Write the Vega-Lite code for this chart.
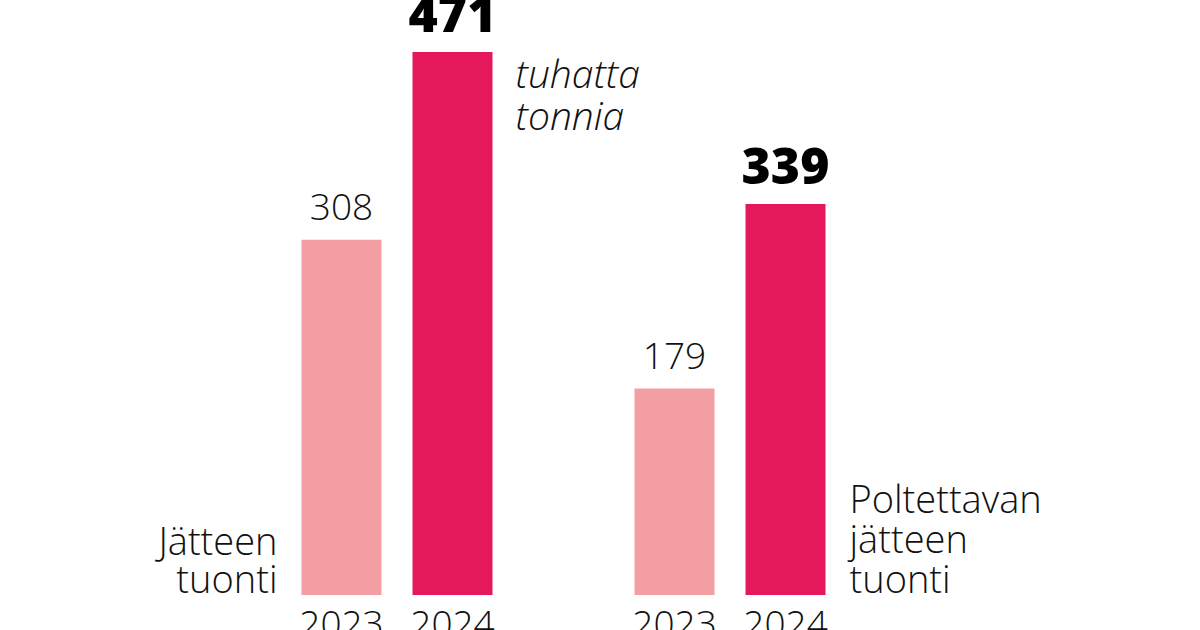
{
  "$schema": "https://vega.github.io/schema/vega-lite/v6.json",
  "width": 555,
  "height": 595,
  "autosize": "none",
  "padding": {"left": 286, "top": 0, "right": 359, "bottom": 35},
  "background": "white",
  "config": {"view": {"stroke": null}, "font": "Open Sans"},
  "datasets": {
    "bars": [
      {"slot": "J 2023", "year": "2023", "value": 308},
      {"slot": "J 2024", "year": "2024", "value": 471},
      {"slot": "P 2023", "year": "2023", "value": 179},
      {"slot": "P 2024", "year": "2024", "value": 339}
    ],
    "notes": [
      {"slot": "J 2023", "value": 0, "note": ["Jätteen", "tuonti"], "kind": "left"},
      {"slot": "P 2024", "value": 0, "note": ["Poltettavan", "jätteen", "tuonti"], "kind": "right"},
      {"slot": "J 2024", "value": 471, "note": ["tuhatta", "tonnia"], "kind": "unit"}
    ]
  },
  "encoding": {
    "x": {
      "field": "slot",
      "type": "nominal",
      "sort": null,
      "scale": {"domain": ["J 2023", "J 2024", "gap", "P 2023", "P 2024"], "paddingInner": 0.2793, "paddingOuter": 0.1396},
      "axis": {
        "title": null,
        "domain": false,
        "ticks": false,
        "labelAngle": 0,
        "labelFontSize": 37,
        "labelFontWeight": 300,
        "labelColor": "#111111",
        "labelPadding": 12,
        "labelFont": "Open Sans",
        "labelExpr": "datum.label == 'gap' ? '' : slice(datum.label, -4)"
      }
    },
    "y": {
      "field": "value",
      "type": "quantitative",
      "scale": {"domain": [0, 516], "nice": false, "zero": true},
      "axis": null
    }
  },
  "layer": [
    {
      "data": {"name": "bars"},
      "mark": {"type": "bar"},
      "encoding": {
        "color": {
          "field": "year",
          "type": "nominal",
          "scale": {"domain": ["2023", "2024"], "range": ["#f39ea2", "#e4185a"]},
          "legend": null
        }
      }
    },
    {
      "data": {"name": "bars"},
      "transform": [{"filter": "datum.year == '2023'"}],
      "mark": {"type": "text", "baseline": "alphabetic", "dy": -20, "fontSize": 37, "fontWeight": 300, "color": "#111111", "font": "Open Sans"},
      "encoding": {"text": {"field": "value", "type": "quantitative"}}
    },
    {
      "data": {"name": "bars"},
      "transform": [{"filter": "datum.year == '2024'"}],
      "mark": {"type": "text", "baseline": "alphabetic", "dy": -20, "fontSize": 50, "fontWeight": 800, "color": "#000000", "font": "Open Sans"},
      "encoding": {"text": {"field": "value", "type": "quantitative"}}
    },
    {
      "data": {"name": "notes"},
      "transform": [{"filter": "datum.kind == 'left'"}],
      "mark": {"type": "text", "align": "right", "baseline": "alphabetic", "dx": -64, "dy": -40, "lineHeight": 38, "fontSize": 38, "fontWeight": 300, "color": "#111111", "font": "Open Sans"},
      "encoding": {"text": {"field": "note"}}
    },
    {
      "data": {"name": "notes"},
      "transform": [{"filter": "datum.kind == 'right'"}],
      "mark": {"type": "text", "align": "left", "baseline": "alphabetic", "dx": 64, "dy": -82, "lineHeight": 40, "fontSize": 38, "fontWeight": 300, "color": "#111111", "font": "Open Sans"},
      "encoding": {"text": {"field": "note"}}
    },
    {
      "data": {"name": "notes"},
      "transform": [{"filter": "datum.kind == 'unit'"}],
      "mark": {"type": "text", "align": "left", "baseline": "alphabetic", "dx": 63, "dy": 36, "lineHeight": 42, "fontSize": 39, "fontWeight": 300, "fontStyle": "italic", "color": "#111111", "font": "Open Sans"},
      "encoding": {"text": {"field": "note"}}
    }
  ]
}
